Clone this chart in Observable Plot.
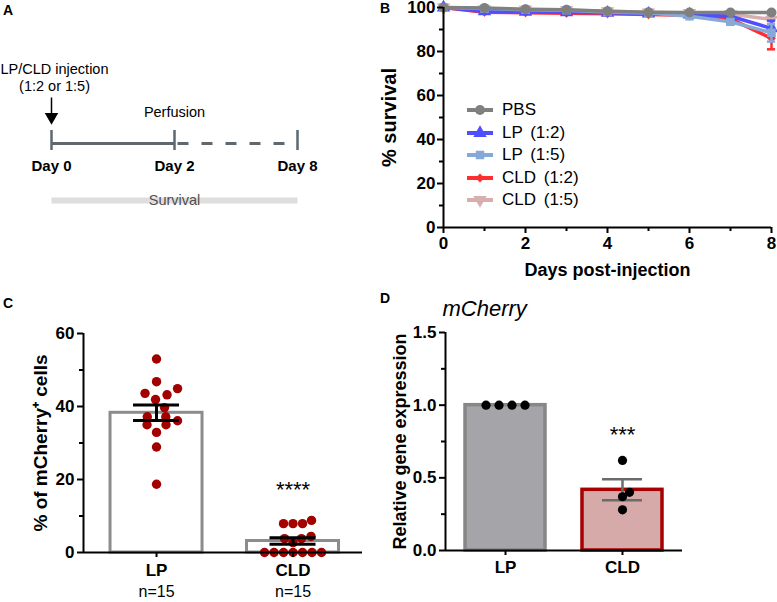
<!DOCTYPE html>
<html><head><meta charset="utf-8">
<script src="https://cdn.jsdelivr.net/npm/d3@7"></script>
<script src="https://cdn.jsdelivr.net/npm/@observablehq/plot@0.6"></script>
<style>
body{margin:0;background:#fff;}
#fig{position:relative;width:777px;height:602px;font-family:"Liberation Sans",Arial,sans-serif;overflow:hidden;background:#fff;color:#000}
.panel{position:absolute}
.panel svg{overflow:visible;display:block}
.letter{position:absolute;font-weight:bold;font-size:14px}
.legend{position:absolute;font-size:17px}
</style></head><body><div id="fig"></div>
<script>
// ---------------- DATA ----------------
// Panel A (schematic)
const timelineDays = ["Day 0", "Day 2", "Day 8"];
const injectionLabel = ["LP/CLD injection", "(1:2 or 1:5)"];
const perfusionLabel = "Perfusion";
const survivalLabel = "Survival";

// Panel B (survival)
const days = [0, 1, 2, 3, 4, 5, 6, 7, 8];
const seriesNames = ["PBS", "LP (1:2)", "LP (1:5)", "CLD (1:2)", "CLD (1:5)"];
const survivalPBS   = [100, 99.8, 99.2, 99.0, 98.3, 97.8, 97.7, 97.7, 97.7];
const survivalLP12  = [100, 98.2, 98.0, 97.8, 97.6, 97.2, 96.8, 96.0, 90.5];
const survivalLP15  = [100, 99.5, 99.0, 98.8, 98.0, 97.5, 96.0, 93.5, 88.5];
const survivalCLD12 = [100, 97.8, 97.6, 97.4, 97.2, 96.8, 96.5, 94.8, 86.0];
const survivalCLD15 = [100, 99.3, 99.0, 98.8, 98.3, 97.8, 97.5, 97.0, 94.5];
const semPBS   = [0, 0, 0, 0, 0, 0, 0, 0, 0];
const semLP12  = [0, 0, 0, 0, 0, 0, 0, 0.6, 3.5];
const semLP15  = [0, 0, 0, 0, 0, 0, 0, 1.0, 4.0];
const semCLD12 = [0, 0, 0, 0, 0, 0, 0, 0.8, 5.0];
const semCLD15 = [0, 0, 0, 0, 0, 0, 0, 0.5, 2.0];

// Panel C (% mCherry+ cells)
const groups = ["LP", "CLD"];
const pctLP  = [53, 46.8, 44.9, 43.6, 43.2, 41.9, 39.7, 37.2, 37.2, 36.1, 35, 35, 32.9, 28.9, 18.7];
const pctCLD = [0, 0, 0, 0, 0, 0, 0, 2.7, 3.8, 3.8, 4.4, 7.9, 7.9, 7.9, 8.8];
const sigC = "****";

// Panel D (relative mCherry expression)
const geneName = "mCherry";
const exprLP  = [1, 1, 1, 1];
const exprCLD = [0.62, 0.40, 0.37, 0.28];
const sigD = "***";

// ---------------- HELPERS ----------------
const FONT = "Liberation Sans, Arial, sans-serif";
const fig = document.getElementById("fig");
function place(node, left, top) {
  const d = document.createElement("div");
  d.className = "panel"; d.style.left = left + "px"; d.style.top = top + "px";
  d.appendChild(node); fig.appendChild(d);
}
function letter(t, left, top) {
  const d = document.createElement("div");
  d.className = "letter"; d.style.left = left + "px"; d.style.top = top + "px";
  d.textContent = t; fig.appendChild(d);
}
const mean = a => d3.mean(a);
const sem = a => d3.deviation(a) / Math.sqrt(a.length) || 0;
const yTitle = (t, dx, fontSize) => Plot.text([t], {frameAnchor: "left", textAnchor: "middle", lineAnchor: "middle",
  rotate: -90, dx, text: d => d, fontSize, fontWeight: "bold"});

// beeswarm offsets (pixels) for a set of values
function swarm(values, pxPerUnit, diam) {
  const order = d3.range(values.length).sort((a, b) => values[a] - values[b]);
  const placed = [], off = new Array(values.length);
  for (const i of order) {
    const y = values[i] * pxPerUnit;
    let pos = null;
    for (let k = 0; pos === null && k < 2000; k++) {
      const cands = k === 0 ? [0] : [k * 0.5, -k * 0.5];
      for (const c of cands) {
        if (placed.every(p => (p.x - c) ** 2 + (p.y - y) ** 2 >= diam * diam - 1e-6)) { pos = c; break; }
      }
    }
    off[i] = pos; placed.push({x: pos, y, i});
  }
  const rows = d3.group(placed, p => Math.round(p.y * 10));
  for (const [, pts] of rows) {
    if (pts.length < 2) continue;
    const [mn, mx] = d3.extent(pts, p => p.x);
    const s = (mn + mx) / 2;
    for (const p of pts) off[p.i] -= s;
  }
  return off;
}

// ---------------- PANEL A ----------------
{
  const lineColor = "#5d6870";
  const rowInj = [69, 86], arrowTop = 97, arrowHead = 116.5, rowPerf = 112,
        rowLine = 143, tickTop = 130, tickBot = 150, rowDay = 166, rowSurv = 200;
  const A = Plot.plot({
    width: 320, height: 220, marginLeft: 51, marginRight: 23, marginTop: 0, marginBottom: 0,
    style: {fontFamily: FONT, background: "transparent", overflow: "visible"},
    x: {type: "point", domain: timelineDays, padding: 0, axis: null},
    y: {domain: [0, 220], reverse: true, axis: null},
    marks: [
      Plot.link([0], {x1: () => timelineDays[0], x2: () => timelineDays[2], y1: () => rowSurv, y2: () => rowSurv,
        stroke: "#dedede", strokeWidth: 6}),
      Plot.text([survivalLabel], {x: () => timelineDays[1], y: () => rowSurv, text: d => d, fontSize: 14.5, fill: "#505050"}),
      Plot.link([0], {x1: () => timelineDays[0], x2: () => timelineDays[1], y1: () => rowLine, y2: () => rowLine,
        stroke: lineColor, strokeWidth: 3}),
      Plot.link([0], {x1: () => timelineDays[1], x2: () => timelineDays[2], y1: () => rowLine, y2: () => rowLine,
        stroke: lineColor, strokeWidth: 3, strokeDasharray: "11,13", strokeDashoffset: -3}),
      Plot.ruleX(timelineDays, {x: d => d, y1: tickTop, y2: tickBot, stroke: lineColor, strokeWidth: 2.5}),
      Plot.text(timelineDays, {x: d => d, y: rowDay, text: d => d, fontSize: 15, fontWeight: "bold"}),
      Plot.text([perfusionLabel], {x: () => timelineDays[1], y: rowPerf, text: d => d, fontSize: 14.5}),
      Plot.text(injectionLabel, {x: () => timelineDays[0], y: (d, i) => rowInj[i], text: d => d, fontSize: 14.5, dx: 3}),
      Plot.link([0], {x1: () => timelineDays[0], x2: () => timelineDays[0], y1: () => arrowTop, y2: () => arrowHead,
        stroke: "#000", strokeWidth: 1.5}),
      Plot.dot([0], {x: () => timelineDays[0], y: () => arrowHead, symbol: "triangle", rotate: 180, r: 5, fill: "#000"})
    ]
  });
  place(A, 0, 0);
  letter("A", 3, 2);
}

// ---------------- PANEL B ----------------
{
  const survivalSeries = [survivalPBS, survivalLP12, survivalLP15, survivalCLD12, survivalCLD15];
  const semSeries = [semPBS, semLP12, semLP15, semCLD12, semCLD15];
  const style = [
    {color: "#808080", symbol: "circle", r: 5, rotate: 0},
    {color: "#4f4fff", symbol: "triangle", r: 5, rotate: 0},
    {color: "#87a9d8", symbol: "square", r: 4.8, rotate: 0},
    {color: "#ff2e2e", symbol: "diamond2", r: 4, rotate: 0},
    {color: "#d8aeae", symbol: "triangle", r: 5, rotate: 180}
  ];
  const drawOrder = [4, 3, 1, 2, 0];
  const seriesMarks = [];
  for (const s of drawOrder) {
    const pts = days.map((d, i) => ({day: d, v: survivalSeries[s][i], e: semSeries[s][i]}));
    const err = pts.filter(p => p.e > 0);
    const st = style[s];
    seriesMarks.push(
      Plot.line(pts, {x: "day", y: "v", stroke: st.color, strokeWidth: 3.5}),
      Plot.ruleX(err, {x: "day", y1: d => d.v - d.e, y2: d => d.v + d.e, stroke: st.color, strokeWidth: 2.5}),
      Plot.ruleY(err, {y: d => d.v - d.e, x1: d => d.day - 0.1, x2: d => d.day + 0.1, stroke: st.color, strokeWidth: 2.5}),
      Plot.ruleY(err, {y: d => d.v + d.e, x1: d => d.day - 0.1, x2: d => d.day + 0.1, stroke: st.color, strokeWidth: 2.5}),
      Plot.dot(pts, {x: "day", y: "v", symbol: st.symbol, r: st.r, rotate: st.rotate, fill: st.color, stroke: "none"})
    );
  }
  const B = Plot.plot({
    width: 397, height: 290, marginLeft: 63, marginRight: 6, marginTop: 7, marginBottom: 63,
    style: {fontFamily: FONT, background: "transparent", overflow: "visible"},
    x: {domain: [0, 8]},
    y: {domain: [0, 100]},
    marks: [
      ...seriesMarks,
      Plot.ruleY([0], {stroke: "#000", strokeWidth: 2}),
      Plot.ruleX([0], {stroke: "#000", strokeWidth: 2}),
      Plot.axisX({ticks: [0, 2, 4, 6, 8], tickSize: 6, strokeWidth: 2, tickPadding: 3, fontSize: 17, fontWeight: "bold", label: null}),
      Plot.axisX({ticks: [1, 3, 5, 7], tickSize: 4, strokeWidth: 2, tickFormat: () => "", label: null}),
      Plot.axisY({ticks: [0, 20, 40, 60, 80, 100], tickSize: 6, strokeWidth: 2, tickPadding: 2, fontSize: 17, fontWeight: "bold", label: null}),
      Plot.axisY({ticks: [10, 30, 50, 70, 90], tickSize: 4, strokeWidth: 2, tickFormat: () => "", label: null}),
      yTitle("% survival", -54, 20),
      Plot.text(["Days post-injection"], {frameAnchor: "bottom", lineAnchor: "middle", dy: 43, text: d => d, fontSize: 18, fontWeight: "bold"})
    ]
  });
  place(B, 380, 0);
  letter("B", 380, 0);

  // legend
  const symType = {circle: d3.symbolCircle, triangle: d3.symbolTriangle, square: d3.symbolSquare, diamond2: d3.symbolDiamond2};
  const leg = d3.select(fig).append("div").attr("class", "legend").style("left", "466px").style("top", "98.75px");
  seriesNames.forEach((name, i) => {
    const st = style[i];
    const row = leg.append("div").style("display", "flex").style("align-items", "center").style("height", "22.5px");
    const s = row.append("svg").attr("width", 28).attr("height", 14).style("overflow", "visible");
    s.append("line").attr("x1", 1).attr("x2", 27).attr("y1", 7).attr("y2", 7).attr("stroke", st.color).attr("stroke-width", 4);
    s.append("path").attr("d", d3.symbol(symType[st.symbol], Math.PI * st.r * st.r)())
      .attr("transform", `translate(14,7) rotate(${st.rotate})`).attr("fill", st.color);
    row.append("span").style("margin-left", "8px").style("word-spacing", "3px").text(name);
  });
}

// ---------------- PANEL C ----------------
{
  const W = 380, H = 312, mL = 83, mR = 18, mT = 43, mB = 50;
  const xDom = [-0.535, 1.509], yDom = [0, 60];
  const pxX = (W - mL - mR) / (xDom[1] - xDom[0]);
  const pxY = (H - mT - mB) / (yDom[1] - yDom[0]);
  const sets = [pctLP, pctCLD];
  const diams = [12, 9.4];
  const stats = sets.map((a, i) => ({gi: i, m: mean(a), lo: mean(a) - sem(a), hi: mean(a) + sem(a)}));
  const pts = sets.flatMap((a, gi) => {
    const off = swarm(a, pxY, diams[gi]);
    return a.map((v, j) => ({x: gi + off[j] / pxX, v}));
  });
  const barHalf = 46 / pxX, capHalf = 23 / pxX;
  const C = Plot.plot({
    width: W, height: H, marginLeft: mL, marginRight: mR, marginTop: mT, marginBottom: mB,
    style: {fontFamily: FONT, background: "transparent", overflow: "visible"},
    x: {domain: xDom},
    y: {domain: yDom},
    marks: [
      Plot.rectY(stats, {x1: d => d.gi - barHalf, x2: d => d.gi + barHalf, y1: 0, y2: "m", fill: "#fff", stroke: "#8c8c8c", strokeWidth: 3}),
      Plot.dot(pts, {x: "x", y: "v", r: 4.7, fill: "#a30000", stroke: "none"}),
      Plot.ruleX(stats, {x: "gi", y1: "lo", y2: "hi", stroke: "#000", strokeWidth: 3}),
      Plot.ruleY(stats, {y: "lo", x1: d => d.gi - capHalf, x2: d => d.gi + capHalf, stroke: "#000", strokeWidth: 3}),
      Plot.ruleY(stats, {y: "hi", x1: d => d.gi - capHalf, x2: d => d.gi + capHalf, stroke: "#000", strokeWidth: 3}),
      Plot.ruleY([0], {stroke: "#000", strokeWidth: 2}),
      Plot.ruleX([xDom[0]], {stroke: "#000", strokeWidth: 2}),
      Plot.axisY({ticks: [0, 20, 40, 60], tickSize: 6, strokeWidth: 2, tickPadding: 3, fontSize: 17, fontWeight: "bold", label: null}),
      Plot.axisY({ticks: [10, 30, 50], tickSize: 4, strokeWidth: 2, tickFormat: () => "", label: null}),
      Plot.axisX({ticks: [0, 1], tickSize: 5, strokeWidth: 2, tickPadding: 6, tickFormat: i => groups[i], fontSize: 17, fontWeight: "bold", label: null}),
      Plot.axisX({ticks: [0, 1], tickSize: 0, tickPadding: 33, tickFormat: i => `n=${sets[i].length}`, fontSize: 16, label: null}),
      Plot.text([sigC], {x: () => 1, y: () => d3.max(pctCLD), dy: -30, text: d => d, fontSize: 22}),
      yTitle("% of mCherry⁺ cells", -43, 19)
    ]
  });
  place(C, 0, 290);
  letter("C", 3, 295);
}

// ---------------- PANEL D ----------------
{
  const W = 397, H = 312, mL = 65, mR = 95, mT = 42, mB = 52;
  const xDom = [-0.513, 1.513], yDom = [0, 1.5];
  const pxX = (W - mL - mR) / (xDom[1] - xDom[0]);
  const pxY = (H - mT - mB) / (yDom[1] - yDom[0]);
  const sets = [exprLP, exprCLD];
  const diams = [13, 8];
  const fills = ["#a4a4a9", "#d6aaa8"], strokes = ["#878787", "#a60000"];
  const stats = sets.map((a, i) => ({gi: i, m: mean(a), lo: mean(a) - sem(a), hi: mean(a) + sem(a), e: sem(a)}));
  const err = stats.filter(d => d.e > 0);
  const pts = sets.flatMap((a, gi) => {
    const off = swarm(a, pxY, diams[gi]);
    return a.map((v, j) => ({x: gi + off[j] / pxX, v}));
  });
  const barHalf = 40 / pxX, capHalf = 20 / pxX;
  const D = Plot.plot({
    width: W, height: H, marginLeft: mL, marginRight: mR, marginTop: mT, marginBottom: mB,
    style: {fontFamily: FONT, background: "transparent", overflow: "visible"},
    x: {domain: xDom},
    y: {domain: yDom},
    marks: [
      Plot.rectY(stats, {x1: d => d.gi - barHalf, x2: d => d.gi + barHalf, y1: 0, y2: "m",
        fill: d => fills[d.gi], stroke: d => strokes[d.gi], strokeWidth: 3.5}),
      Plot.ruleX(err, {x: "gi", y1: "lo", y2: "hi", stroke: "#6b6b6b", strokeWidth: 2.5}),
      Plot.ruleY(err, {y: "lo", x1: d => d.gi - capHalf, x2: d => d.gi + capHalf, stroke: "#6b6b6b", strokeWidth: 2.5}),
      Plot.ruleY(err, {y: "hi", x1: d => d.gi - capHalf, x2: d => d.gi + capHalf, stroke: "#6b6b6b", strokeWidth: 2.5}),
      Plot.dot(pts, {x: "x", y: "v", r: 4.6, fill: "#000", stroke: "none"}),
      Plot.ruleY([0], {stroke: "#000", strokeWidth: 2}),
      Plot.ruleX([xDom[0]], {stroke: "#000", strokeWidth: 2}),
      Plot.axisY({ticks: [0, 0.5, 1, 1.5], tickFormat: d3.format(".1f"), tickSize: 6, strokeWidth: 2, tickPadding: 3, fontSize: 17, fontWeight: "bold", label: null}),
      Plot.axisY({ticks: [0.25, 0.75, 1.25], tickSize: 4, strokeWidth: 2, tickFormat: () => "", label: null}),
      Plot.axisX({ticks: [0, 1], tickSize: 5, strokeWidth: 2, tickPadding: 5, tickFormat: i => groups[i], fontSize: 17, fontWeight: "bold", label: null}),
      Plot.text([sigD], {x: () => 1, y: () => d3.max(exprCLD), dy: -25, text: d => d, fontSize: 22}),
      Plot.text([geneName], {frameAnchor: "top-left", textAnchor: "start", lineAnchor: "middle", dx: -3, dy: -24, text: d => d, fontSize: 22, fontStyle: "italic"}),
      yTitle("Relative gene expression", -45, 18)
    ]
  });
  place(D, 380, 290);
  letter("D", 380, 290);
}
</script></body></html>
